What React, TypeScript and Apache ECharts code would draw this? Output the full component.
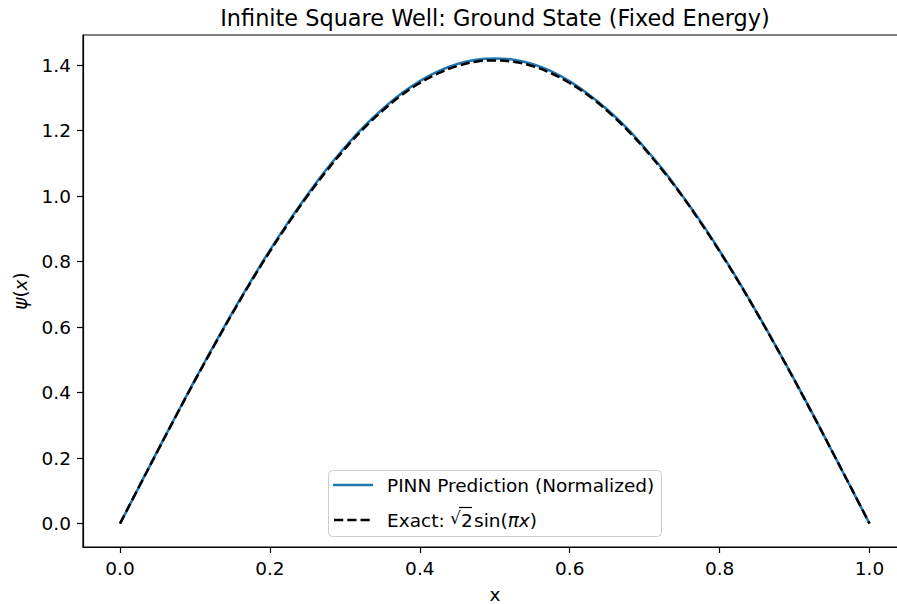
import React, { useEffect, useRef } from "react";
import * as echarts from "echarts";

const xValues = [
  0, 0.025, 0.05, 0.075, 0.1, 0.125, 0.15, 0.175, 0.2, 0.225, 0.25, 0.275, 0.3, 0.325, 0.35, 0.375, 0.4, 0.425, 0.45, 0.475,
  0.5, 0.525, 0.55, 0.575, 0.6, 0.625, 0.65, 0.675, 0.7, 0.725, 0.75, 0.775, 0.8, 0.825, 0.85, 0.875, 0.9, 0.925, 0.95, 0.975, 1.0,
];
const pinnValues = [
  0, 0.111, 0.222, 0.331, 0.439, 0.543, 0.645, 0.742, 0.835, 0.922, 1.004, 1.08, 1.149, 1.211, 1.265, 1.312, 1.351, 1.381, 1.403, 1.416,
  1.42, 1.416, 1.403, 1.381, 1.35, 1.311, 1.264, 1.21, 1.147, 1.079, 1.002, 0.921, 0.833, 0.741, 0.643, 0.542, 0.438, 0.331, 0.221, 0.111, 0,
];
const exactValues = [
  0, 0.111, 0.221, 0.33, 0.437, 0.541, 0.642, 0.739, 0.831, 0.918, 1.0, 1.075, 1.144, 1.206, 1.26, 1.307, 1.345, 1.375, 1.397, 1.41,
  1.414, 1.41, 1.397, 1.375, 1.345, 1.307, 1.26, 1.206, 1.144, 1.075, 1.0, 0.918, 0.831, 0.739, 0.642, 0.541, 0.437, 0.33, 0.221, 0.111, 0,
];
const xTicks = [0, 0.2, 0.4, 0.6, 0.8, 1.0];
const yTicks = [0, 0.2, 0.4, 0.6, 0.8, 1.0, 1.2, 1.4];

const titleText = "Infinite Square Well: Ground State (Fixed Energy)";
const pinnLabel = "PINN Prediction (Normalized)";

const FONT = "DejaVu Sans";
const FS = 18.5;

export default function App() {
  const ref = useRef<HTMLDivElement>(null);
  useEffect(() => {
    if (!ref.current) return;
    const chart = echarts.init(ref.current, undefined, { renderer: "svg" });
    const gl = 83, gt = 35, gw = 824, gh = 512;
    const cx = gl + gw / 2;
    const option: any = {
      animation: false,
      backgroundColor: "#ffffff",
      textStyle: { fontFamily: FONT },
      grid: {
        left: gl, top: gt, width: gw, height: gh,
        containLabel: false, outerBoundsMode: "none",
        show: true, borderColor: "#000", borderWidth: 1.2, backgroundColor: "transparent",
      },
      xAxis: {
        type: "value", min: -0.0494, max: 1.05,
        splitLine: { show: false },
        axisLine: { show: true, onZero: false, lineStyle: { color: "#000", width: 1.2 } },
        axisTick: { show: true, length: 6, customValues: xTicks, lineStyle: { color: "#000", width: 1.2 } },
        axisLabel: { customValues: xTicks, margin: 12, fontSize: FS, color: "#000", fontFamily: FONT, formatter: (v: number) => v.toFixed(1) },
        name: "x", nameLocation: "middle", nameGap: 38,
        nameTextStyle: { fontSize: FS, color: "#000", fontFamily: FONT },
      },
      yAxis: {
        type: "value", min: -0.0714, max: 1.4916,
        splitLine: { show: false },
        axisLine: { show: true, onZero: false, lineStyle: { color: "#000", width: 1.2 } },
        axisTick: { show: true, length: 6, customValues: yTicks, lineStyle: { color: "#000", width: 1.2 } },
        axisLabel: { customValues: yTicks, margin: 12, fontSize: FS, color: "#000", fontFamily: FONT, formatter: (v: number) => v.toFixed(1) },
        name: "{i|ψ}({i|x})", nameLocation: "middle", nameGap: 53, nameRotate: 90,
        nameTextStyle: {
          fontSize: FS, color: "#000", fontFamily: FONT,
          rich: { i: { fontStyle: "italic", fontSize: FS, color: "#000", fontFamily: FONT } },
        },
      },
      series: [
        {
          name: pinnLabel, type: "line", smooth: 0.4, showSymbol: false, symbol: "none",
          data: xValues.map((x, i) => [x, pinnValues[i]]),
          lineStyle: { color: "#1f77b4", width: 2.5 }, z: 2,
        },
        {
          name: "Exact", type: "line", smooth: 0.4, showSymbol: false, symbol: "none",
          data: xValues.map((x, i) => [x, exactValues[i]]),
          lineStyle: { color: "#000", width: 2.5, type: [9.25, 4] }, z: 3,
        },
      ],
      graphic: [
        {
          type: "text", x: cx, y: 28.5, z: 10,
          style: { text: titleText, fontSize: 22.4, fontFamily: FONT, fill: "#000", textAlign: "center", textVerticalAlign: "bottom" },
        },
        {
          type: "group", z: 20,
          children: [
            { type: "rect", shape: { x: 328.5, y: 470.5, width: 333, height: 66, r: 4 }, style: { fill: "rgba(255,255,255,0.8)", stroke: "#cccccc", lineWidth: 1 } },
            { type: "line", shape: { x1: 333, y1: 485, x2: 373, y2: 485 }, style: { stroke: "#1f77b4", lineWidth: 2.5 } },
            { type: "line", shape: { x1: 334, y1: 520, x2: 373, y2: 520 }, style: { stroke: "#000", lineWidth: 2.5, lineDash: [9.25, 4] } },
            { type: "text", x: 387, y: 485, style: { text: pinnLabel, fontSize: FS, fontFamily: FONT, fill: "#000", textVerticalAlign: "middle" } },
            { type: "text", x: 387, y: 520, style: { text: "Exact:", fontSize: FS, fontFamily: FONT, fill: "#000", textVerticalAlign: "middle" } },
            { type: "text", x: 450, y: 518, style: { text: "√", fontSize: 17, fontFamily: FONT, fill: "#000", textVerticalAlign: "middle" } },
            { type: "line", shape: { x1: 459, y1: 507.5, x2: 472, y2: 507.5 }, style: { stroke: "#000", lineWidth: 1.2 } },
            { type: "text", x: 461, y: 520, style: { text: "2", fontSize: FS, fontFamily: FONT, fill: "#000", textVerticalAlign: "middle" } },
            {
              type: "text", x: 474, y: 520,
              style: {
                text: "sin({i|πx})",
                fontSize: FS, fontFamily: FONT, fill: "#000", textVerticalAlign: "middle",
                rich: { i: { fontSize: FS, fontFamily: FONT, fill: "#000", fontStyle: "italic" } },
              },
            },
          ],
        },
      ],
    };
    chart.setOption(option);
    return () => chart.dispose();
  }, []);
  return <div ref={ref} style={{ position: "absolute", left: 0, top: 0, width: 897, height: 604, background: "#fff" }} />;
}
